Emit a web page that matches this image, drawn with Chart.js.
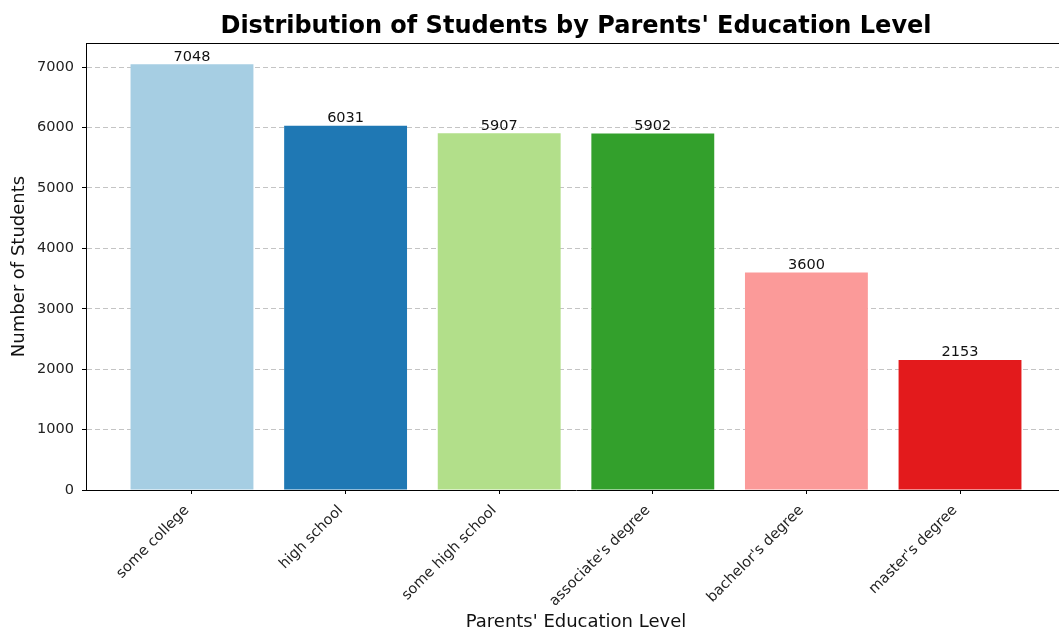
<!DOCTYPE html>
<html>
<head>
<meta charset="utf-8">
<script src="https://cdn.jsdelivr.net/npm/chart.js@4/dist/chart.umd.min.js"></script>
<style>
  html, body { margin: 0; padding: 0; background: #fff; overflow: hidden; }
  #wrap { width: 1059px; height: 633px; overflow: hidden; }
</style>
</head>
<body>
<div id="wrap"><canvas id="c" width="1066" height="633" style="width:1066px;height:633px"></canvas></div>
<script>
const categories = ["some college", "high school", "some high school", "associate's degree", "bachelor's degree", "master's degree"];
const students = [7048, 6031, 5907, 5902, 3600, 2153];
const barColors = ["#a6cee3", "#1f78b4", "#b2df8a", "#33a02c", "#fb9a99", "#e31a1c"];
const yTicks = [0, 1000, 2000, 3000, 4000, 5000, 6000, 7000];
const titleText = "Distribution of Students by Parents' Education Level";
const xTitle = "Parents' Education Level";
const yTitle = "Number of Students";

const FONT = "DejaVu Sans";

const extras = {
  id: 'extras',
  afterDatasetsDraw(chart) {
    const ctx = chart.ctx;
    const meta = chart.getDatasetMeta(0);
    ctx.save();
    ctx.fillStyle = '#111';
    ctx.font = "14.5px '" + FONT + "'";
    ctx.textAlign = 'center';
    ctx.textBaseline = 'bottom';
    meta.data.forEach((bar, i) => {
      ctx.fillText(String(students[i]), bar.x, bar.y);
    });
    ctx.restore();
  },
  afterDraw(chart) {
    const ctx = chart.ctx;
    const a = chart.chartArea;
    ctx.save();
    ctx.strokeStyle = '#000';
    ctx.lineWidth = 1;
    ctx.beginPath();
    ctx.moveTo(a.left, a.top + 0.5);
    ctx.lineTo(a.right, a.top + 0.5);
    ctx.stroke();
    ctx.fillStyle = '#000';
    ctx.font = "bold 24px '" + FONT + "'";
    ctx.textAlign = 'center';
    ctx.textBaseline = 'middle';
    ctx.fillText(titleText, (a.left + a.right) / 2, 27);
    ctx.restore();
  }
};

new Chart(document.getElementById('c'), {
  type: 'bar',
  data: {
    datasets: [{
      data: categories.map((c, i) => ({ x: i, y: students[i] })),
      backgroundColor: barColors,
      borderWidth: 0,
      categoryPercentage: 1.0,
      barPercentage: 0.8
    }]
  },
  options: {
    responsive: false,
    animation: false,
    layout: { padding: { top: 43, right: 0, left: 0, bottom: 0 } },
    plugins: { legend: { display: false }, tooltip: { enabled: false }, title: { display: false } },
    scales: {
      x: {
        type: 'linear',
        min: -0.69,
        max: 5.69,
        offset: false,
        afterBuildTicks(scale) { scale.ticks = categories.map((c, i) => ({ value: i })); },
        afterFit(scale) { scale.height = 143; },
        ticks: {
          autoSkip: false,
          minRotation: 45,
          maxRotation: 45,
          padding: 8,
          labelOffset: -5,
          color: '#222',
          font: { family: FONT, size: 14.5 },
          callback: (v) => categories[v]
        },
        grid: { offset: false, drawOnChartArea: false, drawTicks: true, tickLength: 4, tickColor: '#000', tickWidth: 1 },
        border: { display: true, color: '#000', width: 1 },
        title: { display: true, text: xTitle, color: '#111', font: { family: FONT, size: 18 }, padding: { top: 0, bottom: 0 } }
      },
      y: {
        min: 0,
        max: 7400,
        z: 1,
        afterBuildTicks(scale) { scale.ticks = yTicks.map(v => ({ value: v })); },
        afterFit(scale) { scale.width = 86; },
        ticks: {
          includeBounds: false,
          padding: 8,
          color: '#222',
          font: { family: FONT, size: 14.5 },
          callback: (v) => String(v)
        },
        grid: {
          color: (ctx) => (ctx.tick && ctx.tick.value === 0) ? 'rgba(0,0,0,0)' : 'rgba(176,176,176,0.75)',
          lineWidth: 1,
          tickLength: 4,
          tickColor: '#000',
          tickWidth: 1,
          tickBorderDash: []
        },
        border: { display: true, color: '#000', width: 1, dash: [5, 3] },
        title: { display: true, text: yTitle, color: '#111', font: { family: FONT, size: 18 }, padding: { top: 9, bottom: 0 } }
      }
    }
  },
  plugins: [extras]
});
</script>
</body>
</html>
